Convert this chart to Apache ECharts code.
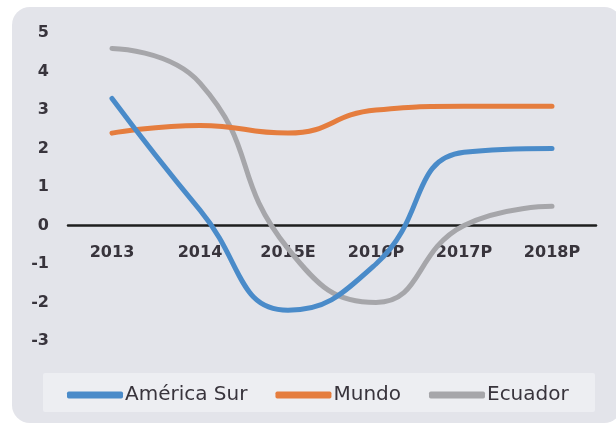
<!DOCTYPE html>
<html>
<head>
<meta charset="utf-8">
<script src="https://cdn.jsdelivr.net/npm/echarts@6/dist/echarts.min.js"></script>
<style>
html,body{margin:0;padding:0;background:#ffffff;}
#chart{width:616px;height:425px;}
</style>
</head>
<body>
<div id="chart"></div>
<script>
var categories = ['2013', '2014', '2015E', '2016P', '2017P', '2018P'];
var americaSur = [3.3, 0.4, -2.2, -1.0, 1.9, 2.0];
var mundo = [2.4, 2.6, 2.4, 3.0, 3.1, 3.1];
var ecuador = [4.6, 3.7, -0.6, -2.0, 0.0, 0.5];
var seriesNames = ['América Sur', 'Mundo', 'Ecuador'];
var yTicks = { min: -3, max: 5, interval: 1 };

var colors = ['#4a8bc9', '#e57d3e', '#a6a6aa'];
var gridTop = 33, gridBottom = 84, chartH = 425;
var plotH = chartH - gridTop - gridBottom;
// distance from bottom of plot to the zero line, so category labels sit under the zero line
var zeroOffset = -plotH * (0 - yTicks.min) / (yTicks.max - yTicks.min);

var chart = echarts.init(document.getElementById('chart'), null, { renderer: 'canvas' });

function mkSeries(name, data, color, z) {
  return {
    name: name,
    type: 'line',
    data: data,
    smooth: 0.5,
    symbol: 'none',
    z: z,
    lineStyle: { color: color, width: 5, cap: 'round' },
    itemStyle: { color: color }
  };
}

chart.setOption({
  backgroundColor: '#ffffff',
  animation: false,
  graphic: [
    {
      type: 'rect', z: -10,
      shape: { x: 12, y: 7, width: 610, height: 416, r: 18 },
      style: { fill: '#e3e4ea' }
    },
    {
      type: 'rect', z: -9,
      shape: { x: 43, y: 373, width: 552, height: 39, r: 2 },
      style: { fill: '#edeef2' }
    }
  ],
  grid: { left: 68, right: 20, top: gridTop, bottom: gridBottom, containLabel: false },
  xAxis: {
    type: 'category',
    data: categories,
    boundaryGap: true,
    position: 'bottom',
    offset: zeroOffset,
    axisLine: { onZero: false, lineStyle: { color: '#1e1e1e', width: 2.5 } },
    axisTick: { show: false },
    axisLabel: {
      margin: 19,
      color: '#38343c',
      fontFamily: 'DejaVu Sans',
      fontWeight: 'bold',
      fontSize: 16
    },
    splitLine: { show: false },
    z: 0
  },
  yAxis: {
    type: 'value',
    min: yTicks.min,
    max: yTicks.max,
    interval: yTicks.interval,
    axisLine: { show: false },
    axisTick: { show: false },
    splitLine: { show: false },
    axisLabel: {
      margin: 19,
      color: '#38343c',
      fontFamily: 'DejaVu Sans',
      fontWeight: 'bold',
      fontSize: 16
    }
  },
  legend: {
    data: seriesNames,
    left: 62,
    top: 380,
    itemWidth: 56,
    itemHeight: 7,
    itemGap: 28,
    icon: 'roundRect',
    textStyle: {
      color: '#38343c',
      fontFamily: 'DejaVu Sans',
      fontSize: 20,
      padding: [0, 0, 0, -3]
    }
  },
  series: [
    mkSeries(seriesNames[0], americaSur, colors[0], 4),
    mkSeries(seriesNames[1], mundo, colors[1], 3),
    mkSeries(seriesNames[2], ecuador, colors[2], 2)
  ]
});
</script>
</body>
</html>
